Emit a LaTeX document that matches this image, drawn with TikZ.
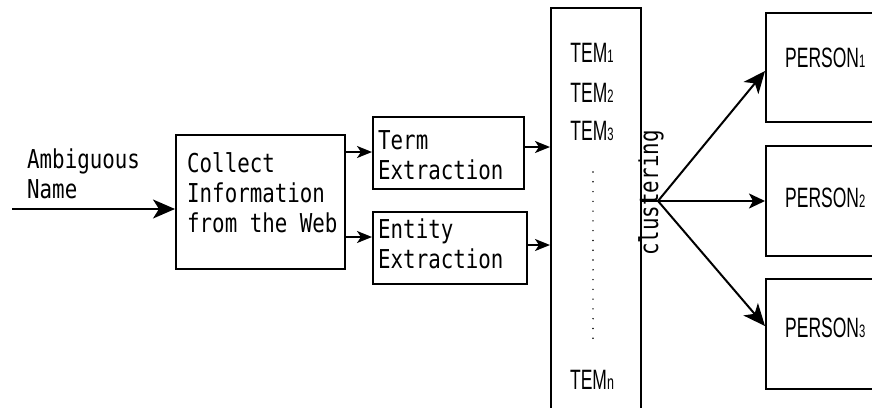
\documentclass[tikz,border=0pt]{standalone}
\usepackage{fontspec}
\usetikzlibrary{arrows.meta}
\newfontfamily\monof[FakeStretch=0.8]{DejaVu Sans Mono}
\newfontfamily\narrowf[FakeStretch=0.625]{Liberation Sans}
\newcommand\subdig[1]{{\fontsize{18}{18}\selectfont #1}}
\tikzset{
  box/.style={draw, line width=1.8pt, inner sep=0pt, anchor=north west},
  mono/.style={font=\monof\fontsize{26}{30}\selectfont, inner sep=0pt, align=left, anchor=base west},
  narrow/.style={font=\narrowf\fontsize{28}{30}\selectfont, inner sep=0pt},
  arrbig/.style={line width=2pt, -{Stealth[length=22pt, width=19pt, inset=6pt]}},
  arrsmall/.style={line width=2pt, -{Stealth[length=15pt, width=12pt, inset=4pt]}},
  arrmid/.style={line width=2pt, -{Stealth[length=16pt, width=15pt, inset=4pt]}},
}
\begin{document}
\begin{tikzpicture}[x=1pt, y=-1pt]
\useasboundingbox (0,0) rectangle (872,407);
\clip (0,0) rectangle (872,407);
% boxes
\node[box, minimum width=169pt, minimum height=134pt] (collect) at (175,134) {};
\node[box, minimum width=151pt, minimum height=72pt] (term) at (372,116) {};
\node[box, minimum width=154pt, minimum height=72pt] (entity) at (372,211) {};
\node[box, minimum width=90pt, minimum height=420pt] (col) at (550,7) {};
\node[box, minimum width=140pt, minimum height=109pt] (p1) at (765,12) {};
\node[box, minimum width=140pt, minimum height=110pt] (p2) at (765,145) {};
\node[box, minimum width=140pt, minimum height=110pt] (p3) at (765,278) {};
% texts (base anchor = last line)
\node[mono] (amb) at (27,198) {Ambiguous\\Name};
\node[mono] (collecttxt) at (187,232) {Collect\\Information\\from the Web};
\node[mono] (termtxt) at (378,179) {Term\\Extraction};
\node[mono] (entitytxt) at (378,268) {Entity\\Extraction};
\node[narrow, anchor=base] (t1) at (592,62) {TEM\subdig{1}};
\node[narrow, anchor=base] (t2) at (592,102) {TEM\subdig{2}};
\node[narrow, anchor=base] (t3) at (592,140) {TEM\subdig{3}};
\node[narrow, anchor=base] (tn) at (592,389) {TEM{\fontsize{20}{20}\selectfont n}};
\node[narrow, anchor=base west] (pt1) at (785,67) {PERSON\subdig{1}};
\node[narrow, anchor=base west] (pt2) at (785,207) {PERSON\subdig{2}};
\node[narrow, anchor=base west] (pt3) at (785,337) {PERSON\subdig{3}};
\node[font=\monof\fontsize{26}{30}\selectfont, inner sep=0pt, rotate=90, anchor=base] (clus) at (658,193) {clustering};
% dots
\coordinate (d1) at (593,172);
\coordinate (d2) at (593,348);
\draw[line width=1.6pt, line cap=round, dash pattern=on 0pt off 9.78pt] (d1) -- (d2);
% arrows
\coordinate (start) at (12,209);
\draw[arrbig] (start) -- (collect.west |- start);
\draw[arrsmall] (collect.east |- 0,152) -- (term.west |- 0,152);
\draw[arrsmall] (collect.east |- 0,237) -- (entity.west |- 0,237);
\draw[arrsmall] (term.east |- 0,147) -- (col.west |- 0,147);
\draw[arrsmall] (entity.east |- 0,245) -- (col.west |- 0,245);
\coordinate (fan) at (658,201);
\draw[line width=2pt] (col.east |- fan) -- (fan);
\draw[arrbig] (fan) -- (p1.west |- 0,71);
\draw[arrmid] (fan) -- (p2.west |- fan);
\draw[arrbig] (fan) -- (p3.west |- 0,326);
\end{tikzpicture}
\end{document}
